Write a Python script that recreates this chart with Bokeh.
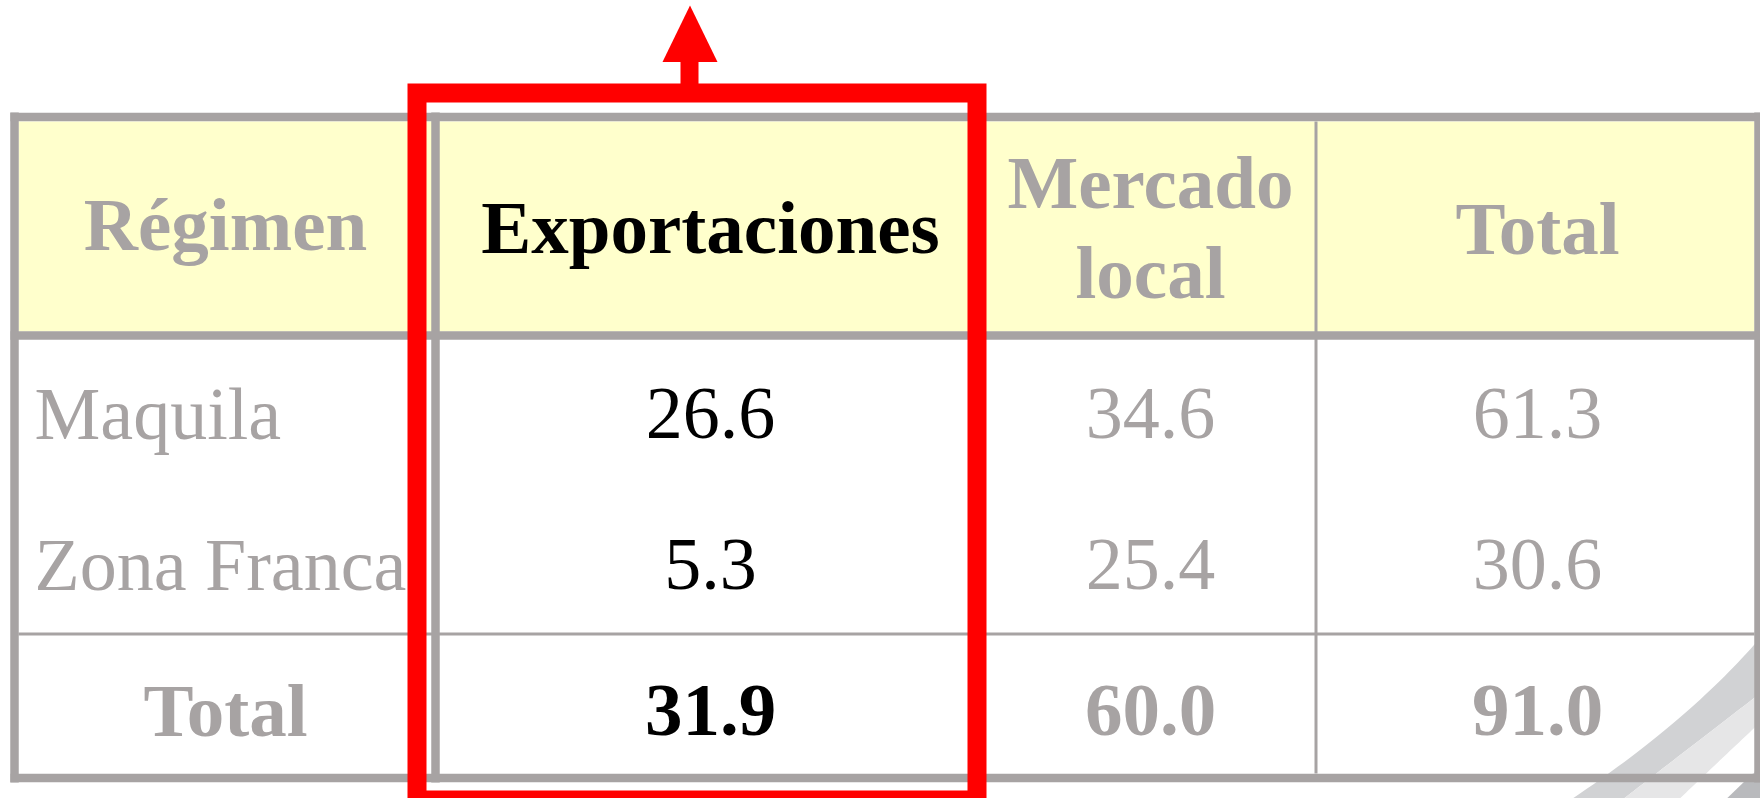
import numpy as np
from bokeh.plotting import figure
from bokeh.models import Range1d, ColumnDataSource
from bokeh.core.properties import value
from bokeh.embed import file_html
from bokeh.resources import INLINE

# ---------------- data ----------------
headers = ["Régimen", "Exportaciones", "Mercado local", "Total"]
regimen = ["Maquila", "Zona Franca"]
exportaciones = [26.6, 5.3]
mercado_local = [34.6, 25.4]
total = [61.3, 30.6]
total_label = "Total"
totales = [31.9, 60.0, 91.0]   # as printed in the source table

# ---------------- layout (reference pixels) ----------------
FONT = value("Liberation Serif")
GRAY = "#a7a3a3"
BLACK = "#000000"
RED = "#ff0000"
BASE_SHIFT = 26          # renderer places alphabetic baseline lower than requested
W, H = 1760, 798
col_lines = [14, 435, 976, 1315.5, 1758]
col_centers = [225, 710, 1150, 1537]
row_lines = [116.5, 335, 633.5, 777.5]
header_base = [250, 253, 208, 254]
header_line_gap = 90
row_bases = [439, 590]
total_base = 736
label_left = 34

p = figure(width=W, height=H, x_range=Range1d(0, W), y_range=Range1d(H, 0),
           output_backend="svg", toolbar_location=None, min_border=0)
p.axis.visible = False
p.grid.visible = False
p.outline_line_color = None
p.background_fill_color = "white"
p.border_fill_color = "white"

# dark corner decoration (behind table)
p.patch([1718, 1770, 1770], [806, 806, 756], fill_color="#b9babd", line_color=None)

# header fill and body fill
p.quad(left=[18], right=[1754], top=[121], bottom=[331], fill_color="#ffffcc", line_color=None)
p.quad(left=[18], right=[1754], top=[339], bottom=[773], fill_color="white", line_color=None)


def qbez(p0, c, p2, n=40):
    t = np.linspace(0, 1, n)
    x = (1 - t) ** 2 * p0[0] + 2 * (1 - t) * t * c[0] + t ** 2 * p2[0]
    y = (1 - t) ** 2 * p0[1] + 2 * (1 - t) * t * c[1] + t ** 2 * p2[1]
    return x, y

ax, ay = qbez((1766, 630), (1691, 720), (1560, 806))
bx, by = qbez((1766, 688), (1692, 745), (1613, 806))
cx, cy = qbez((1766, 716), (1718, 761), (1671, 806))
p.patch(np.concatenate([ax, bx[::-1]]), np.concatenate([ay, by[::-1]]),
        fill_color="#d1d2d4", line_color=None)
p.patch(np.concatenate([bx, cx[::-1]]), np.concatenate([by, cy[::-1]]),
        fill_color="#e6e6e7", line_color=None)

# table lines
top, hdr, rowl, bot = row_lines
left, c1, c2, c3, right = col_lines
thick = dict(line_color=GRAY, line_width=8.5, line_cap="butt")
thin = dict(line_color=GRAY, line_width=3, line_cap="butt")
p.segment(x0=[10, 10, 10], y0=[top, hdr, bot], x1=[1762, 1762, 1762], y1=[top, hdr, bot], **thick)
p.segment(x0=[left, c1, right], y0=[112, 112, 112], x1=[left, c1, right], y1=[782, 782, 782], **thick)
p.segment(x0=[c2, c3, 18], y0=[121, 121, rowl], x1=[c2, c3, 1754], y1=[773, 773, rowl], **thin)

# header texts (multi-word headers wrap onto two lines)
tx, ty, tt, tc = [], [], [], []
for i, h in enumerate(headers):
    words = h.split(" ") if i == 2 else [h]
    for k, w in enumerate(words):
        tx.append(col_centers[i])
        ty.append(header_base[i] + k * header_line_gap - BASE_SHIFT)
        tt.append(w)
        tc.append(BLACK if i == 1 else GRAY)
p.text(x="x", y="y", text="text", source=ColumnDataSource(dict(x=tx, y=ty, text=tt, color=tc)),
       text_color="color", text_font=FONT, text_font_size="75px", text_font_style="bold",
       text_align="center", text_baseline="alphabetic")

# row labels
p.text(x=[label_left] * len(regimen), y=[b - BASE_SHIFT for b in row_bases], text=regimen,
       text_color=GRAY, text_font=FONT, text_font_size="74px", text_align="left",
       text_baseline="alphabetic")
# values
vx, vy, vt, vc = [], [], [], []
for j, col in enumerate([exportaciones, mercado_local, total]):
    for k, v in enumerate(col):
        vx.append(col_centers[j + 1]); vy.append(row_bases[k] - BASE_SHIFT); vt.append(f"{v:.1f}")
        vc.append(BLACK if j == 0 else GRAY)
p.text(x="x", y="y", text="text", source=ColumnDataSource(dict(x=vx, y=vy, text=vt, color=vc)),
       text_color="color", text_font=FONT, text_font_size="74px", text_align="center",
       text_baseline="alphabetic")
# total row
trx = list(col_centers)
trt = [total_label] + [f"{v:.1f}" for v in totales]
trc = [GRAY, BLACK, GRAY, GRAY]
p.text(x="x", y="y", text="text",
       source=ColumnDataSource(dict(x=trx, y=[total_base - BASE_SHIFT] * 4, text=trt, color=trc)),
       text_color="color", text_font=FONT, text_font_size="75px", text_font_style="bold",
       text_align="center", text_baseline="alphabetic")

# red highlight box and arrow
p.quad(left=[416.5], right=[976.5], top=[92.5], bottom=[799.5], fill_color=None,
       line_color=RED, line_width=19, line_join="miter")
p.quad(left=[680], right=[698], top=[58], bottom=[84], fill_color=RED, line_color=None)
p.patch([662, 717, 689.5], [61.5, 61.5, 5], fill_color=RED, line_color=None)

open("out.html", "w").write(file_html(p, INLINE))
